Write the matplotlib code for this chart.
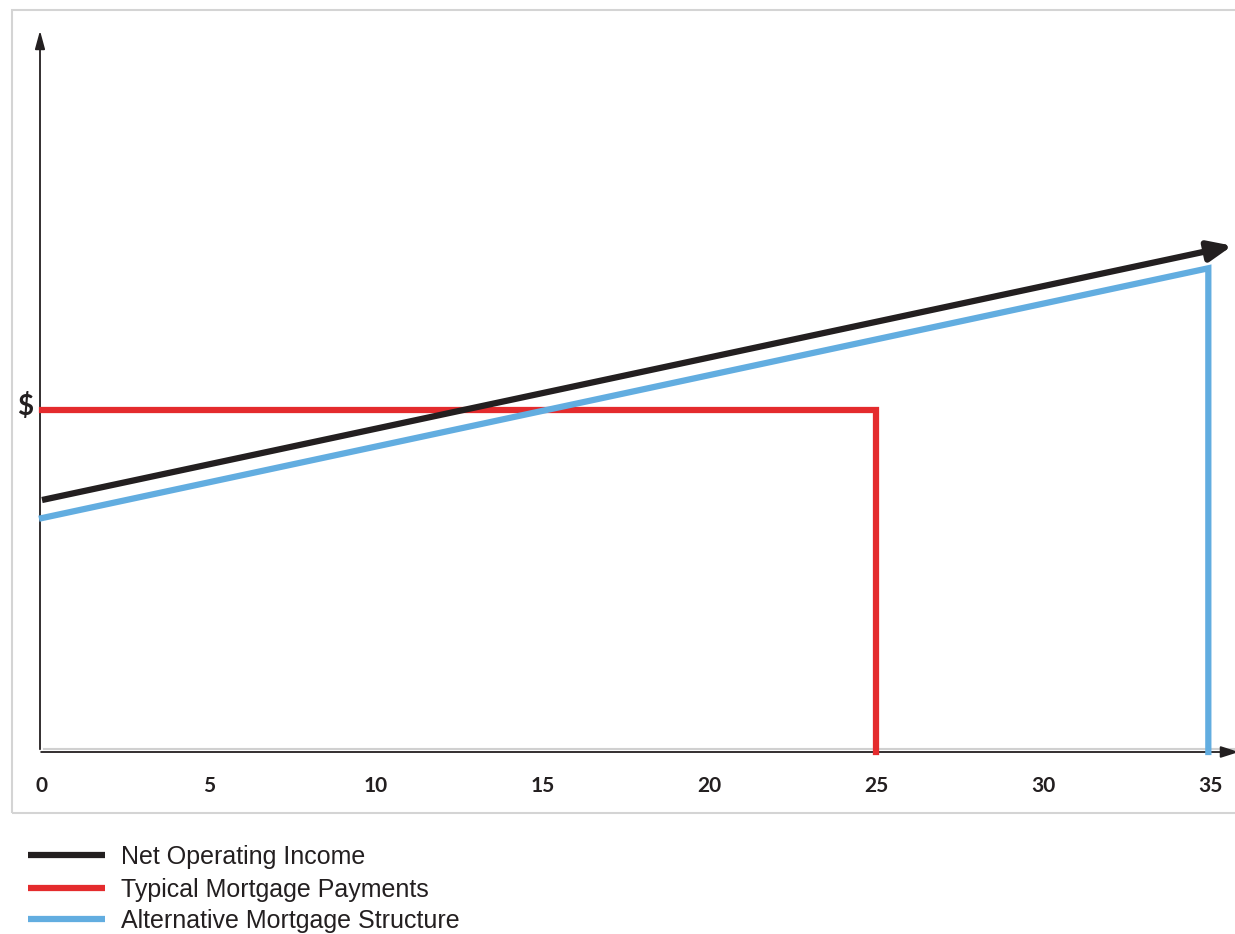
import matplotlib
matplotlib.use("Agg")
import matplotlib.pyplot as plt
from matplotlib.patches import Rectangle
from matplotlib.lines import Line2D

# ---- data ----
years_ticks = [0, 5, 10, 15, 20, 25, 30, 35]
noi_x = [0, 35.75]
noi_y = [34.9, 70.2]
typical_x = [0, 25, 25]
typical_y = [47.4, 47.4, 0]
alt_x = [0, 34.95, 34.95]
alt_y = [32.4, 67.0, 0]
series_names = ["Net Operating Income", "Typical Mortgage Payments", "Alternative Mortgage Structure"]
colors = ["#231f20", "#e42b2d", "#62ade0"]

W, H = 1235, 934
fig = plt.figure(figsize=(W / 100, H / 100), dpi=100)

def fx(px):
    return px / W

def fy(py):
    return 1 - py / H

# outer frame
fig.patches.append(Rectangle((fx(12), fy(813)), fx(1300) - fx(12), fy(10) - fy(813),
                             transform=fig.transFigure, fill=False, edgecolor="#d4d4d4", lw=1.5))

ax_left, ax_right, ax_top, ax_bot = 40, 1235, 30, 752
ax = fig.add_axes([fx(ax_left), fy(ax_bot), fx(ax_right - ax_left), fy(ax_top) - fy(ax_bot)])
px_per_x = (1210 - 42) / 35.0
xmin = -(42 - ax_left) / px_per_x
xmax = (ax_right - 42) / px_per_x
ax.set_xlim(xmin, xmax)
ax.set_ylim(0, 100)
for s in ax.spines.values():
    s.set_visible(False)
ax.set_yticks([])
ax.set_xticks(years_ticks)
ax.tick_params(axis="x", length=0, pad=17)
for lbl in ax.get_xticklabels():
    lbl.set_fontfamily("Lato")
    lbl.set_fontweight("bold")
    lbl.set_fontsize(15)
    lbl.set_color("#231f20")

# light gray baseline
ax.plot([0.05, xmax], [0.35, 0.35], color="#d0d0d0", lw=1.5, clip_on=False, zorder=1)

# axes arrows
ax.annotate("", xy=(xmin, 100.3), xytext=(xmin, 0), xycoords="data",
            arrowprops=dict(arrowstyle="-|>,head_length=1.1,head_width=0.3", color="#231f20", lw=1.3),
            annotation_clip=False)
ax.annotate("", xy=(xmax + 0.2, 0), xytext=(xmin - 0.05, 0),
            arrowprops=dict(arrowstyle="-|>,head_length=1.1,head_width=0.35", color="#231f20", lw=1.3),
            annotation_clip=False)

# series
ax.plot(typical_x, typical_y, color=colors[1], lw=4.5, solid_joinstyle="miter", clip_on=False, zorder=3)
ax.plot(alt_x, alt_y, color=colors[2], lw=4.5, solid_joinstyle="miter", clip_on=False, zorder=3)
slope = (noi_y[1] - noi_y[0]) / (noi_x[1] - noi_x[0])
ax.plot([noi_x[0], noi_x[1] - 0.5], [noi_y[0], noi_y[1] - 0.5 * slope],
        color=colors[0], lw=4.5, clip_on=False, zorder=4, solid_capstyle="butt")
ax.annotate("", xy=(noi_x[1], noi_y[1]), xytext=(noi_x[1] - 0.7, noi_y[1] - 0.7 * slope),
            arrowprops=dict(arrowstyle="-|>,head_length=1.4,head_width=0.6", color=colors[0], lw=4.5),
            annotation_clip=False, zorder=4)

# $ label
fig.text(fx(25), fy(406), "$", fontfamily="Lato", fontweight="bold", fontsize=20,
         ha="center", va="center", color="#231f20")

# legend
leg_y = [855, 888, 919]
for name, c, y in zip(series_names, colors, leg_y):
    fig.lines.append(Line2D([fx(28), fx(105)], [fy(y), fy(y)], transform=fig.transFigure,
                            color=c, lw=4.5, solid_capstyle="butt"))
    fig.text(fx(121), fy(y + 2), name, fontfamily="Liberation Sans", fontsize=18,
             ha="left", va="center", color="#231f20")

fig.savefig("out.png", dpi=100)
